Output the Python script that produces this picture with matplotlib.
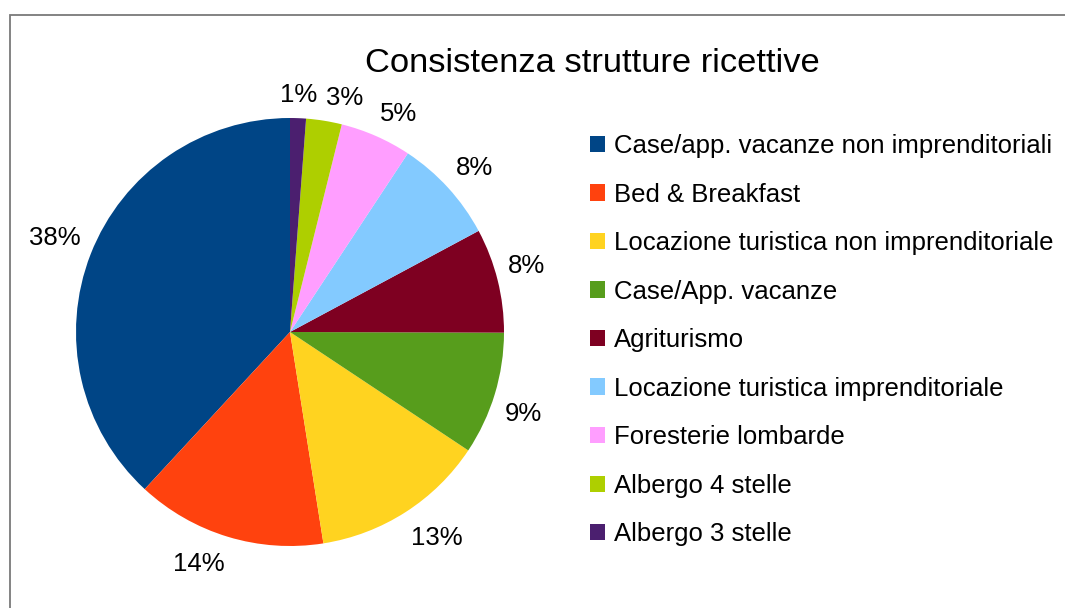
#!/usr/bin/env python

# Pie chart of accommodation types (Consistenza strutture ricettive)

import numpy as np
import matplotlib
matplotlib.use('Agg')
import matplotlib.pyplot as plt
from matplotlib.patches import Patch, Rectangle

categories = ['Case/app. vacanze non imprenditoriali', 'Bed & Breakfast',
              'Locazione turistica non imprenditoriale', 'Case/App. vacanze',
              'Agriturismo', 'Locazione turistica imprenditoriale',
              'Foresterie lombarde', 'Albergo 4 stelle', 'Albergo 3 stelle']
shares = [38.2, 14.4, 13.2, 9.3, 7.9, 7.9, 5.4, 2.7, 1.2]
colors = ['#004586', '#ff420e', '#ffd320', '#579d1c', '#7e0021',
          '#83caff', '#ff9eff', '#aecf00', '#4b1f6f']
title = 'Consistenza strutture ricettive'

plt.rcParams['font.family'] = ['Liberation Sans', 'DejaVu Sans']

W, H = 1065, 608
fig = plt.figure(figsize=(W/100.0, H/100.0), dpi=100)

# pie centre at (290, 332) px, radius 214 px
cx, cy, r = 290, 332, 214
ax = fig.add_axes([(cx-r)/float(W), (H-cy-r)/float(H), 2.0*r/W, 2.0*r/H])
wedges, texts = ax.pie(shares, colors=colors, startangle=90, counterclock=True,
                       wedgeprops=dict(linewidth=0))
ax.set_xlim(-1, 1)
ax.set_ylim(-1, 1)
ax.set_aspect('equal')
ax.axis('off')

# percent labels placed outside like LibreOffice: anchored just outside the rim,
# aligned away from the centre
total = float(sum(shares))
for w, v in zip(wedges, shares):
    ang = np.deg2rad(0.5*(w.theta1 + w.theta2))
    x, y = 1.05*np.cos(ang), 1.05*np.sin(ang)
    if abs(np.cos(ang)) < 0.1:
        ha = 'center'
    else:
        ha = 'left' if x > 0 else 'right'
    va = 'bottom' if y > 0 else 'top'
    dy = 0 if y > 0 else -5
    ax.annotate('%.0f%%' % (100*v/total), (x, y), xytext=(0, dy), textcoords='offset pixels',
                ha=ha, va=va, fontsize=18.5, annotation_clip=False)

# title
fig.text(592.0/W, 1-72.5/H, title, ha='center', va='baseline', fontsize=24.8)

# legend on the right
handles = [Patch(facecolor=c, edgecolor='none') for c in colors]
fig.legend(handles, categories, loc='upper left', bbox_to_anchor=(590.0/W, 1-134.0/H),
           frameon=False, fontsize=18.5, handlelength=0.6, handleheight=0.6,
           handletextpad=0.35, labelspacing=0.955, borderpad=0, borderaxespad=0)

# gray border of the chart area (cut at right and bottom)
fig.add_artist(Rectangle((10.0/W, -0.1), 1.2, (H-15.0)/H+0.1, transform=fig.transFigure,
                         fill=False, edgecolor='#7a7a7a', linewidth=1.3))

fig.savefig('out.png', dpi=100)
plt.close()
